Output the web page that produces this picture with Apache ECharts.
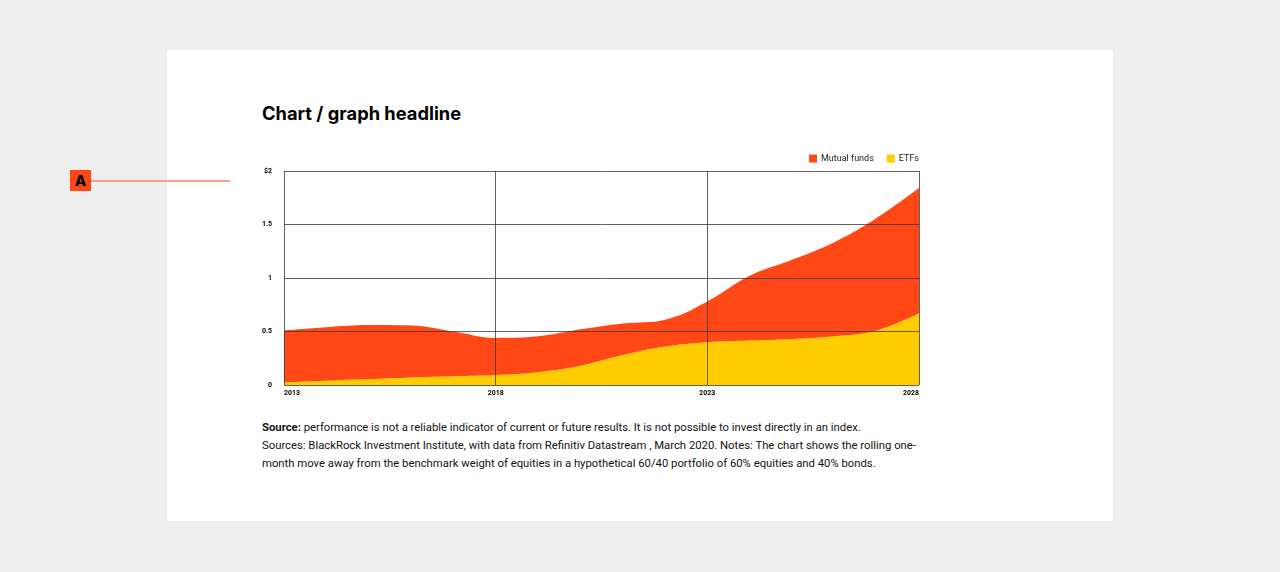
<!DOCTYPE html>
<html>
<head>
<meta charset="utf-8">
<script src="https://cdn.jsdelivr.net/npm/echarts@6/dist/echarts.min.js"></script>
<style>
  html, body { margin: 0; padding: 0; }
  body { width: 1280px; height: 572px; background: #eeeeee; position: relative; overflow: hidden; font-family: Roboto, "Noto Sans", sans-serif; }
  #card { position: absolute; left: 167px; top: 50px; width: 946px; height: 471px; background: #ffffff; }
  #title { position: absolute; left: 262px; top: 101px; margin: 0; font-family: Inter, Roboto, sans-serif; font-weight: 700; font-size: 18.3px; line-height: 24px; color: #000; white-space: nowrap; }
  #chart { position: absolute; left: 240px; top: 140px; width: 700px; height: 270px; }
  #note { position: absolute; left: 262px; top: 419px; margin: 0; font-size: 11.3px; line-height: 18px; color: #111; white-space: nowrap; }
  #note b { font-weight: 700; }
  #markA { position: absolute; left: 70px; top: 170px; width: 21px; height: 21px; background: #ff4713; color: #000; font-family: Inter, Roboto, sans-serif; font-weight: 800; font-size: 15px; line-height: 21px; text-align: center; }
  #markLine { position: absolute; left: 91px; top: 180px; width: 139px; height: 1.5px; background: #ff9d86; }
</style>
</head>
<body>
<div id="card"></div>
<div id="markA">A</div>
<div id="markLine"></div>
<h1 id="title">Chart / graph headline</h1>
<div id="chart"></div>
<p id="note"><b>Source:</b> performance is not a reliable indicator of current or future results. It is not possible to invest directly in an index.<br>Sources: BlackRock Investment Institute, with data from Refinitiv Datastream , March 2020. Notes: The chart shows the rolling one-<br>month move away from the benchmark weight of equities in a hypothetical 60/40 portfolio of 60% equities and 40% bonds.</p>
<script>
const years = ['2013','2014','2015','2016','2017','2018','2019','2020','2021','2022','2023','2024','2025','2026','2027','2028'];
const etfs = [0.025, 0.04, 0.055, 0.07, 0.082, 0.093, 0.12, 0.18, 0.28, 0.36, 0.40, 0.415, 0.43, 0.455, 0.51, 0.67];
const mutualFunds = [0.485, 0.50, 0.505, 0.485, 0.418, 0.347, 0.335, 0.34, 0.295, 0.25, 0.38, 0.605, 0.74, 0.88, 1.05, 1.17];
const yTicks = { 0: '0', 0.5: '0.5', 1: '1', 1.5: '1.5', 2: '$2' };

const chart = echarts.init(document.getElementById('chart'));
chart.setOption({
  animation: false,
  legend: {
    data: ['Mutual funds', 'ETFs'],
    right: 21, top: 14, padding: 0,
    icon: 'rect', itemWidth: 8, itemHeight: 8, itemGap: 13,
    textStyle: { fontSize: 9, color: '#222', fontFamily: 'Roboto', padding: [0, 0, 0, -1] }
  },
  grid: { left: 44, top: 31, width: 635, height: 214, containLabel: false },
  xAxis: {
    type: 'category', data: years, boundaryGap: false, z: 10,
    axisLine: { show: false }, axisTick: { show: false },
    axisLabel: { interval: 4, fontSize: 7, fontWeight: 'bold', color: '#000', margin: 5, fontFamily: 'Roboto', alignMinLabel: 'left', alignMaxLabel: 'right' },
    splitLine: { show: true, interval: 4, lineStyle: { color: '#3a3a3a', width: 0.8 } }
  },
  yAxis: {
    type: 'value', min: 0, max: 2, interval: 0.5, z: 10,
    axisLine: { show: false }, axisTick: { show: false },
    axisLabel: { fontSize: 7, fontWeight: 'bold', color: '#000', margin: 12, fontFamily: 'Roboto', formatter: v => yTicks[v] !== undefined ? yTicks[v] : String(v) },
    splitLine: { show: true, lineStyle: { color: '#3a3a3a', width: 0.8 } }
  },
  series: [
    { name: 'ETFs', type: 'line', stack: 'total', data: etfs, smooth: 0.4, symbol: 'none',
      lineStyle: { width: 0 }, itemStyle: { color: '#ffcc00' }, areaStyle: { color: '#ffcc00', opacity: 1 } },
    { name: 'Mutual funds', type: 'line', stack: 'total', data: mutualFunds, smooth: 0.4, symbol: 'none',
      lineStyle: { width: 0 }, itemStyle: { color: '#ff4815' }, areaStyle: { color: '#ff4815', opacity: 1 } }
  ]
});
</script>
</body>
</html>
